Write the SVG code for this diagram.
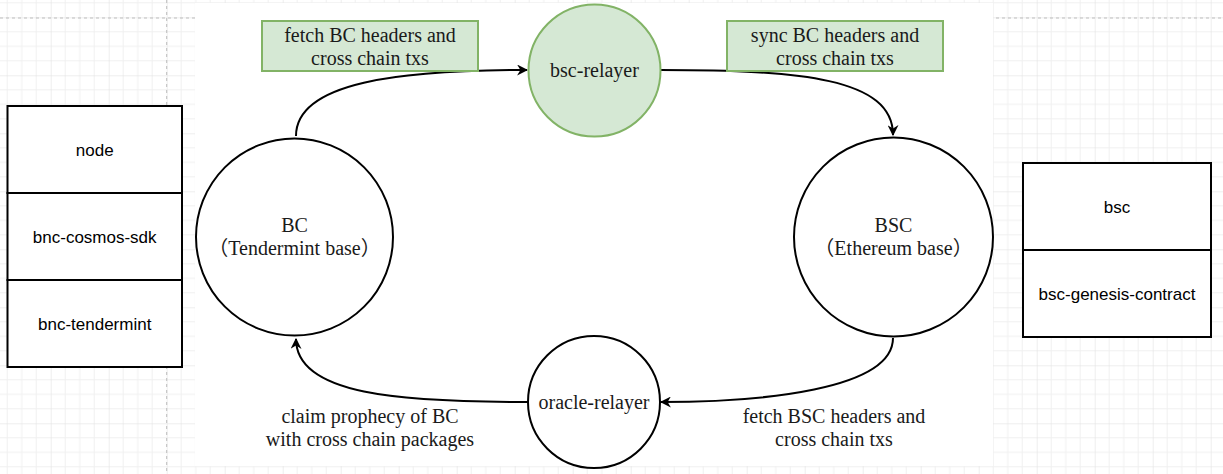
<svg xmlns="http://www.w3.org/2000/svg" width="1223" height="474" viewBox="0 0 1223 474">
<style>
.serif{font-family:"Liberation Serif","Times New Roman","Noto Sans CJK SC",serif;font-size:20px;fill:#1a1a1a;text-anchor:middle}
.sans{font-family:"Liberation Sans",Arial,sans-serif;font-size:17px;fill:#000;text-anchor:middle}
.node{fill:#fff;stroke:#000;stroke-width:2}
.green{fill:#d5e8d4;stroke:#82b366;stroke-width:2}
.edge{fill:none;stroke:#000;stroke-width:2}
.cell{fill:#fff;stroke:#000;stroke-width:2}
</style>
<defs>
<pattern id="grid" patternUnits="userSpaceOnUse" x="50.7" y="17.3" width="58" height="58">
<path d="M14.5 0V58M29 0V58M43.5 0V58M0 14.5H58M0 29H58M0 43.5H58" stroke="#f0f0f0" stroke-width="1" fill="none"/>
<path d="M0 0V58M0 0H58" stroke="#dedede" stroke-width="1" fill="none"/>
</pattern>
<marker id="arr" viewBox="0 0 10 10" refX="9" refY="5" markerWidth="5.5" markerHeight="5.5" orient="auto" markerUnits="strokeWidth">
<path d="M0 0L10 5L0 10L3 5Z" fill="#000"/>
</marker>
</defs>
<rect width="1223" height="474" fill="#fff"/>
<rect width="1223" height="474" fill="url(#grid)"/>
<path d="M166.7 0V474M0 18H1223" stroke="#bdbdbd" stroke-width="1" stroke-dasharray="3 3" fill="none"/>
<rect x="195" y="3" width="798" height="463" fill="#fff"/>

<g id="connectors">
<path class="edge" d="M296 136C296 82 400 70 527 70" marker-end="url(#arr)"/>
<path class="edge" d="M661 70C800 70 893 78 893 135" marker-end="url(#arr)"/>
<path class="edge" d="M893 338C893 390 760 402 661 402" marker-end="url(#arr)"/>
<path class="edge" d="M528 402C400 402 296 395 296 339" marker-end="url(#arr)"/>
</g>

<g id="label-fetch-bc">
<rect class="green" x="262" y="21" width="216" height="50"/>
<text class="serif" x="370" y="42">fetch BC headers and</text>
<text class="serif" x="370" y="65">cross chain txs</text>
</g>
<g id="label-sync-bc">
<rect class="green" x="727" y="21" width="216" height="50"/>
<text class="serif" x="835" y="42">sync BC headers and</text>
<text class="serif" x="835" y="65">cross chain txs</text>
</g>
<g id="label-claim">
<text class="serif" x="370" y="423">claim prophecy of BC</text>
<text class="serif" x="370" y="446">with cross chain packages</text>
</g>
<g id="label-fetch-bsc">
<text class="serif" x="834" y="423">fetch BSC headers and</text>
<text class="serif" x="834" y="446">cross chain txs</text>
</g>

<g id="bsc-relayer">
<circle class="green" cx="594.5" cy="70.5" r="66"/>
<text class="serif" x="594.5" y="77">bsc-relayer</text>
</g>
<g id="oracle-relayer">
<circle class="node" cx="594" cy="402" r="66"/>
<text class="serif" x="594" y="409">oracle-relayer</text>
</g>
<g id="bc">
<circle class="node" cx="294.5" cy="237" r="98.5"/>
<text class="serif" x="294.5" y="232">BC</text>
<text class="serif" x="294.5" y="255">（Tendermint base）</text>
</g>
<g id="bsc">
<circle class="node" cx="893.5" cy="237" r="99.5"/>
<text class="serif" x="893.5" y="232">BSC</text>
<text class="serif" x="893.5" y="255">（Ethereum base）</text>
</g>

<g id="bc-stack">
<rect class="cell" x="7.5" y="106" width="174.5" height="87"/>
<rect class="cell" x="7.5" y="193" width="174.5" height="87"/>
<rect class="cell" x="7.5" y="280" width="174.5" height="87"/>
<text class="sans" x="94.7" y="155.5">node</text>
<text class="sans" x="94.7" y="242.5">bnc-cosmos-sdk</text>
<text class="sans" x="94.7" y="329.5">bnc-tendermint</text>
</g>
<g id="bsc-stack">
<rect class="cell" x="1023" y="163" width="188" height="87"/>
<rect class="cell" x="1023" y="250" width="188" height="87"/>
<text class="sans" x="1117" y="212.5">bsc</text>
<text class="sans" x="1117" y="299.5">bsc-genesis-contract</text>
</g>
</svg>
